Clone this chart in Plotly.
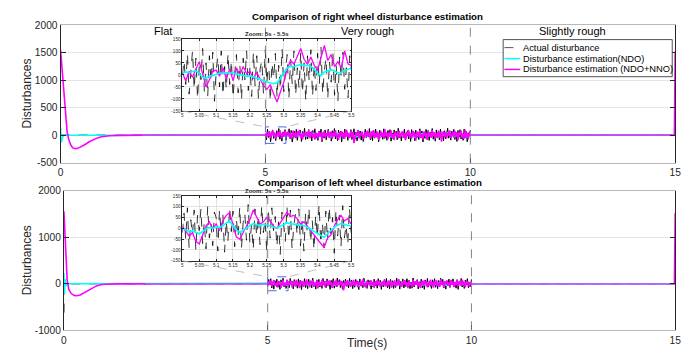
import numpy as np
import plotly.graph_objects as go

# ============================ DATA ============================
X_TICKS = [0, 5, 10, 15]
Y_TICKS_TOP = [-500, 0, 500, 1000, 1500, 2000]
Y_TICKS_BOT = [-1000, 0, 1000, 2000]
ZX_TICKS = [5, 5.05, 5.1, 5.15, 5.2, 5.25, 5.3, 5.35, 5.4, 5.45, 5.5]
ZX_LABELS = ["5", "5.05", "5.1", "5.15", "5.2", "5.25", "5.3", "5.35", "5.4", "5.45", "5.5"]
ZY_TICKS = [-150, -100, -50, 0, 50, 100, 150]
REGIONS = ["Flat", "Very rough", "Slightly rough"]
REGION_T = [2.5, 7.5, 12.5]
NAMES = ["Actual disturbance", "Disturbance estimation(NDO)", "Disturbance estimation (NDO+NNO)"]

# ---- start-up transient (0-5 s) ----
mag_t_top = [0, 0.04, 0.08, 0.12, 0.16, 0.2, 0.25, 0.3, 0.36, 0.42, 0.5, 0.6, 0.7, 0.8, 0.9, 1.0, 1.2, 1.5, 2.0, 5.0]
mag_v_top = [1550, 1150, 780, 400, 60, -80, -180, -232, -248, -240, -215, -170, -120, -80, -50, -30, -12, -4, 0, 0]
cyan_t_top = [0, 0.005, 0.02, 0.05, 0.08, 5.0]
cyan_v_top = [134, 60, -130, -40, 0, 0]
act_t_top = [0, 5.0]
act_v_top = [0, 0]

mag_t_bot = [0, 0.02, 0.04, 0.06, 0.08, 0.12, 0.18, 0.25, 0.32, 0.4, 0.5, 0.6, 0.7, 0.8, 0.9, 1.0, 1.3, 2.0, 5.0]
mag_v_bot = [1560, 1150, 750, 400, 80, -120, -210, -250, -258, -240, -190, -130, -80, -45, -22, -10, -3, 0, 0]
cyan_t_bot = [0, 0.005, 0.015, 0.03, 0.05, 0.07, 5.0]
cyan_v_bot = [230, 100, -220, 100, -50, 0, 0]
act_t_bot = [0, 0.004, 5.0]
act_v_bot = [-620, 0, 0]

# settled stretches where both estimates sit on zero (lines overlap)
flat_t = [2.0, 5.0, None, 10.0, 14.98]
flat_v = [0, 0, None, 0, 0]

# ---- very rough section (5-10 s), main view ----
act_band_top = [
    30, -85, 110, -40, 70, -120, 15, 95, -60, 45, -100, 80, -20, 120, -75, 35, -110, 60, -30, 100,
    -90, 50, -15, 115, -65, 85, -125, 20, 75, -50, 105, -95, 40, -10, 90, -115, 65, -35, 125, -80,
    10, -70, 100, -45, 55, -105, 85, -25, 115, -60, 30, -95, 75, -5, 110, -120, 45, -55, 95, -85,
    20, 105, -40, 60, -110, 80, -15, 120, -70, 40, -100, 90, -30, 70, -125, 50, -60, 110, -20, 85,
    -95, 35, -45, 100, -80, 15, 115, -65, 55, -105, 95, -10, 75, -90, 45, -115, 25, 105, -50, 65,
    -35, 120, -85, 30, -100, 80, -55, 110, -15, 60, -120, 90, -40, 20, -75, 115, -60, 50, -95, 85,
    -25, 100, -110, 40, -65, 95, -5, 70, -85, 125, -45, 35, -105, 55, -20, 110, -90, 15, 80, -70,
    45, -115, 100, -30, 65, -100, 90, -50, 20, -80, 115, -40, 75, -125, 35, -60, 105, -15, 85, -95,
    55, -35, 120, -75, 25, -110, 95, -45, 60, -85, 110, -20, 40, -100, 80, -65, 15, 125, -55, 30,
    -90, 70, -10, 105, -80, 50, -115, 85, -40, 100, -70, 25, -95, 110, -50, 65, -120, 40, -15, 90,
]
mag_band_top = [
    20, -40, 55, -10, 70, -50, 30, 85, -20, 40, -65, 15, 60, -35, 90, 5, -55, 45, -15, 75,
    -45, 25, 65, -30, 50, -70, 10, 80, -25, 35, -60, 70, -5, 95, -40, 20, -75, 55, -20, 40,
    60, -30, 85, -55, 15, 70, -45, 30, -80, 45, 5, -60, 75, -25, 50, -95, 20, 65, -40, 35,
    -15, 80, -50, 25, 60, -70, 40, -20, 90, -35, 15, -85, 55, -10, 70, -45, 30, -65, 100, -25,
    45, -55, 20, 75, -40, 60, -145, -30, 50, -15, 85, -60, 35, -5, 65, -75, 25, 55, -35, 80,
    -20, 45, -65, 70, -10, 90, -50, 30, -40, 60, -85, 15, 75, -30, 45, -55, 105, -20, 35, -70,
    50, -25, 85, -45, 20, -90, 65, -15, 40, -60, 80, -35, 10, 70, -50, 25, -80, 55, -5, 95,
    -40, 30, -65, 75, -20, 50, -100, 35, 60, -30, 85, -55, 15, -75, 65, -10, 45, -85, 70, -25,
    40, -50, 90, -15, 55, -70, 25, -35, 80, -45, 60, -120, 20, 70, -25, 50, -60, 35, -10, 85,
    -55, 30, 65, -40, 75, -20, 45, -90, 55, -5, 80, -50, 25, -65, 95, -30, 40, -75, 60, -15,
]
cyan_band_top = [
    5, -10, 15, 20, -5, -25, 10, 30, 15, -15, -30, -10, 20, 35, 10, -20, -5, 25, 15, -10,
    -25, 5, 30, 40, 15, -10, -30, -15, 10, 25, 5, -20, -35, -10, 15, 30, 20, -5, -25, -10,
    20, 35, 10, -15, -30, -5, 25, 15, -10, -25, 0, 30, 40, 10, -20, -35, -10, 20, 25, 5,
    -15, -30, -5, 15, 35, 20, -10, -25, 5, 30, 10, -20, -40, -15, 10, 30, 15, -5, -25, -10,
    20, 35, 15, -10, -30, -20, 5, 25, 35, 10, -15, -35, -10, 15, 25, 5, -20, -30, 0, 20,
]

act_band_bot = [
    -60, 95, -25, 110, -90, 40, -115, 70, -10, 100, -75, 55, -120, 85, -35, 120, -65, 20, -100, 75,
    45, -85, 115, -30, 60, -110, 90, -55, 25, -95, 105, -15, 80, -125, 50, -45, 110, -80, 35, -105,
    100, -20, 65, -90, 120, -60, 15, -115, 85, -40, 95, -70, 30, -100, 115, -25, 55, -85, 105, -50,
    20, -120, 75, -35, 110, -95, 40, -65, 125, -10, 90, -80, 50, -110, 70, -30, 100, -55, 15, -90,
    115, -45, 80, -105, 35, -75, 95, -15, 60, -125, 105, -50, 25, -85, 120, -60, 45, -100, 85, -20,
    70, -115, 10, -70, 100, -40, 55, -95, 110, -30, 75, -120, 40, -65, 90, -5, 115, -85, 30, -110,
    95, -55, 65, -100, 20, -80, 120, -35, 85, -115, 50, -25, 105, -90, 15, -60, 110, -45, 75, -105,
    35, -95, 125, -70, 60, -20, 90, -110, 45, -50, 100, -85, 25, -120, 80, -40, 115, -65, 55, -15,
    -100, 85, -30, 110, -75, 40, -105, 70, -55, 120, -10, 95, -90, 30, -115, 65, -45, 100, -80, 50,
    -25, 105, -60, 15, -95, 90, -120, 55, -35, 115, -70, 45, -100, 80, -20, 110, -85, 35, -60, 95,
]
mag_band_bot = [
    -30, 50, -15, 70, -55, 25, 80, -40, 10, -70, 60, -20, 45, -85, 35, 75, -50, 20, -35, 90,
    -60, 40, -10, 65, -80, 30, 55, -45, 85, -25, 15, -90, 70, -5, 50, -65, 40, -30, 95, -20,
    35, -75, 60, -15, 80, -50, 25, -40, 70, -100, 45, 10, -55, 85, -30, 55, -70, 20, 65, -45,
    75, -25, 40, -85, 15, 60, -35, 90, -60, 30, -10, 70, -50, 45, -140, -20, 55, -40, 80, -15,
    25, -65, 50, -30, 85, -45, 15, 70, -75, 40, -20, 60, -55, 95, -35, 20, -80, 65, -10, 45,
    -50, 75, -25, 35, -90, 55, -15, 80, -40, 65, -70, 25, 50, -35, 85, -60, 10, -45, 70, -20,
    60, -85, 30, -10, 75, -55, 45, -30, 100, -50, 20, -65, 55, -15, 80, -40, 35, -95, 65, -25,
    15, -70, 85, -35, 50, -20, 70, -60, 40, -90, 25, 65, -45, 80, -10, 55, -75, 30, -30, 90,
    -45, 35, -80, 60, -15, 75, -50, 20, -65, 95, -25, 45, -85, 55, -5, 70, -40, 30, -60, 85,
    -20, 50, -70, 40, -35, 80, -55, 15, 65, -45, 90, -30, 25, -75, 60, -10, 45, -65, 35, -25,
]
cyan_band_bot = [
    -5, 10, 20, -10, -25, 5, 25, 15, -10, -30, -15, 15, 30, 20, -5, -20, 5, 25, 10, -15,
    -35, -10, 20, 30, 5, -20, -25, 0, 20, 35, 15, -10, -30, -20, 10, 25, 10, -15, -25, 5,
    30, 20, -5, -25, -40, -15, 15, 30, 20, 0, -20, -30, -5, 20, 35, 10, -15, -25, -10, 15,
    25, 5, -20, -35, -15, 10, 30, 25, 0, -20, -10, 15, 35, 20, -5, -30, -20, 5, 25, 15,
    -10, -25, -5, 20, 30, 10, -15, -35, -20, 5, 25, 30, 10, -15, -30, -10, 15, 25, 5, -10,
]

# ---- slightly rough section (10-15 s) ----
end_t = [10.0, 14.98, 15.0]
end_act = [0, 0, 0]
end_cyan = [0, 0, 0]
end_mag = [0, 0, 1520]

# ---- zoom windows (5-5.5 s) ----
act_zoom_top = [
    0, 60, -40, 90, -80, 30, 100, -60, 70, -100, 40, -20, 110, -70, 50, -90, 80, -30, 95, -110,
    20, 75, -50, 100, -85, 35, -60, 90, -40, 60, -95, 10, 85, -75, 45, -105, 70, -20, 100, -65,
    30, -90, 95, -45, 80, -100, 25, 60, -80, 105, -35, 70, -110, 50, -15, 90, -95, 40, -60, 110,
    -70, 20, 85, -100, 65, -40, 100, -85, 30, -55, 95, -75, 50, -110, 80, -25, 105, -90, 45, -65,
    90, -40, 115, -80, 20, 70, -100, 55, -30, 100, -85, 40, -110, 75, -15, 95, -60, 30, -95, 80, 20,
]
mag_zoom_top = [
    10, -25, 15, -10, 25, 55, 5, -50, -20, 15,
    20, -5, 30, -15, 25, -25, 30, 0, 35, 5,
    15, -15, 10, -20, -45, -60, -40, -80, -113, -70,
    -30, 25, 60, 45, 80, 110, 65, 45, 75, 40,
    20, 70, 123, 60, 85, 35, 55, 30, 100, 45, 40,
]
cyan_zoom_top = [
    8, 12, 10, 15, 18, 5, -10, -14, -6, -2,
    4, 8, 6, 10, 7, 9, 4, 0, -2, -5,
    -4, -8, -12, -18, -24, -30, -34, -37, -33, -15,
    5, 30, 36, 34, 40, 42, 38, 40, 35, 24,
    5, -3, 12, 18, 22, 16, 8, 10, 20, 24, 28,
]
act_zoom_bot = [
    -20, 70, -50, 95, -90, 40, -30, 85, -100, 60, -10, 90, -70, 30, -95, 100, -45, 20, -80, 75,
    50, -105, 85, -25, 65, -110, 35, -60, 95, -15, 80, -85, 45, -40, 100, -95, 25, 70, -55, 110,
    -65, 15, -100, 90, -35, 60, -75, 105, -20, 40, -110, 80, -45, 95, -10, 55, -85, 30, -120, 75,
    20, -60, 100, -50, 85, -95, 10, 65, -30, 90, -80, 45, -105, 70, -15, 95, -65, 35, -100, 60,
    -40, 110, -70, 25, -90, 80, -55, 100, -25, 50, -115, 85, -35, 60, -85, 105, -45, 15, -75, 95, -20,
]
mag_zoom_bot = [
    10, -15, -35, -20, -60, -72, -30, 10, 30, 0,
    20, -10, 35, 60, 73, 20, -40, -50, -20, 15,
    40, 85, 55, 20, 30, 50, 35, 10, 0, 25,
    45, 75, 55, 60, 45, 20, 30, 10, -10, -35,
    -55, -70, -87, -45, -30, 10, 40, 60, 35, 45, 20,
]
cyan_zoom_bot = [
    0, -8, -15, -12, -20, -25, -15, -2, 5, 0,
    8, 4, 12, 25, 33, 15, -8, -18, -10, 2,
    12, 22, 18, 12, 20, 15, 10, 5, 2, 10,
    18, 25, 22, 20, 18, 15, 12, 5, -5, -15,
    -25, -35, -42, -25, -10, 5, 15, 22, 18, 15, 10,
]

# ============================ LAYOUT HELPERS ============================
W, H = 697, 355
FONT = "Liberation Sans, Arial, sans-serif"
TXT = "#262626"
CYAN = "#00FFFF"
MAG = "#FF00FF"
MIX = "#a46cf2"
ACT = "#000000"


def px(p):
    return p / W


def py(p):
    return 1 - p / H


TOP_X = [px(58.3), px(681)]
TOP_Y = [py(162.7), py(20.7)]
BOT_X = [px(61.7), px(681)]
BOT_Y = [py(335.7), py(191.7)]
INS1_X = [px(181.7), px(353)]
INS1_Y = [py(109.3), py(35)]
INS2_X = [px(181.7), px(352.7)]
INS2_Y = [py(264), py(197)]
TOP_RANGE = [-500, 2000]
BOT_RANGE = [-1000, 2000]


def seg_t(vals, t0, t1):
    return np.linspace(t0, t1, len(vals))


fig = go.Figure()


def add_line(t, v, color, width, dash, xa, ya):
    fig.add_trace(go.Scatter(x=list(t), y=list(v), mode="lines", xaxis=xa, yaxis=ya, showlegend=False,
                             line=dict(color=color, width=width, dash=dash), hoverinfo="skip"))


def add_main(xa, ya, act_t, act_v, act_b, cy_t, cy_v, cy_b, mg_t, mg_v, mg_b):
    # actual disturbance: dashed on the quiet stretches, dense band in the rough one
    add_line(list(act_t) + list(end_t), list(act_v) + list(end_act), ACT, 1, "dash", xa, ya)
    add_line(seg_t(act_b, 5.0, 10.0), act_b, ACT, 1, "solid", xa, ya)
    t = list(cy_t) + list(seg_t(cy_b, 5.0, 10.0)) + list(end_t)
    v = list(cy_v) + list(cy_b) + list(end_cyan)
    add_line(t, v, CYAN, 1.5, "solid", xa, ya)
    t = list(mg_t) + list(seg_t(mg_b, 5.0, 10.0)) + list(end_t)
    v = list(mg_v) + list(mg_b) + list(end_mag)
    add_line(t, v, MAG, 1.6, "solid", xa, ya)
    add_line(flat_t, flat_v, MIX, 1.4, "solid", xa, ya)


add_main("x", "y", act_t_top, act_v_top, act_band_top, cyan_t_top, cyan_v_top, cyan_band_top,
         mag_t_top, mag_v_top, mag_band_top)
add_main("x2", "y2", act_t_bot, act_v_bot, act_band_bot, cyan_t_bot, cyan_v_bot, cyan_band_bot,
         mag_t_bot, mag_v_bot, mag_band_bot)
# zoom top
add_line(seg_t(act_zoom_top, 5, 5.5), act_zoom_top, ACT, 0.8, "dash", "x3", "y3")
add_line(seg_t(mag_zoom_top, 5, 5.5), mag_zoom_top, MAG, 1.3, "solid", "x3", "y3")
add_line(seg_t(cyan_zoom_top, 5, 5.5), cyan_zoom_top, CYAN, 1.6, "solid", "x3", "y3")
# zoom bottom
add_line(seg_t(act_zoom_bot, 5, 5.5), act_zoom_bot, ACT, 0.8, "dash", "x4", "y4")
add_line(seg_t(mag_zoom_bot, 5, 5.5), mag_zoom_bot, MAG, 1.3, "solid", "x4", "y4")
add_line(seg_t(cyan_zoom_bot, 5, 5.5), cyan_zoom_bot, CYAN, 1.6, "solid", "x4", "y4")

tickfont = dict(family=FONT, size=10.2, color=TXT)


def main_x(domain, anchor):
    return dict(domain=domain, anchor=anchor, range=[0, 15], tickvals=X_TICKS,
                ticktext=[str(x) for x in X_TICKS], ticks="inside", ticklen=5,
                tickcolor=TXT, showline=True, linecolor="#b8b8b8", linewidth=1,
                mirror=True, showgrid=False, zeroline=False, tickfont=tickfont)


def main_y(domain, anchor, rng, tv):
    return dict(domain=domain, anchor=anchor, range=rng, tickvals=tv,
                ticktext=[str(y) for y in tv], ticks="inside", ticklen=5,
                tickcolor=TXT, showline=True, linecolor=TXT, linewidth=1,
                mirror="ticks", showgrid=True, gridcolor="#e4e4e4", gridwidth=1,
                zeroline=False, tickfont=tickfont)


zfont = dict(family=FONT, size=4.6, color=TXT)


def zoom_x(domain, anchor):
    return dict(domain=domain, anchor=anchor, range=[5, 5.5], tickvals=ZX_TICKS,
                ticktext=ZX_LABELS, ticks="inside", ticklen=2, tickcolor=TXT,
                showline=True, linecolor=TXT, linewidth=0.8, mirror="ticks",
                showgrid=True, gridcolor="#e2e2e2", gridwidth=0.8, zeroline=False,
                tickfont=zfont)


def zoom_y(domain, anchor):
    return dict(domain=domain, anchor=anchor, range=[-150, 150], tickvals=ZY_TICKS,
                ticktext=[str(y) for y in ZY_TICKS], ticks="inside", ticklen=2,
                tickcolor=TXT, showline=True, linecolor=TXT, linewidth=0.8,
                mirror="ticks", showgrid=True, gridcolor="#e2e2e2", gridwidth=0.8,
                zeroline=False, tickfont=zfont)


fig.update_layout(
    width=W, height=H, margin=dict(l=0, r=0, t=0, b=0),
    paper_bgcolor="white", plot_bgcolor="white", showlegend=False,
    font=dict(family=FONT, color=TXT),
    xaxis=main_x(TOP_X, "y"), yaxis=main_y(TOP_Y, "x", TOP_RANGE, Y_TICKS_TOP),
    xaxis2=main_x(BOT_X, "y2"), yaxis2=main_y(BOT_Y, "x2", BOT_RANGE, Y_TICKS_BOT),
    xaxis3=zoom_x(INS1_X, "y3"), yaxis3=zoom_y(INS1_Y, "x3"),
    xaxis4=zoom_x(INS2_X, "y4"), yaxis4=zoom_y(INS2_Y, "x4"),
)

shapes = []
annotations = []

# region separators
for xa, ya in (("x", "y domain"), ("x2", "y2 domain")):
    for xv in (5, 10):
        shapes.append(dict(type="line", xref=xa, yref=ya, x0=xv, x1=xv, y0=0, y1=1,
                           line=dict(color="#777777", width=0.9, dash="dash"), layer="above"))


def to_paper(xd, yd, dx, dy, rng):
    xp = dx[0] + (xd - 0) / 15 * (dx[1] - dx[0])
    yp = dy[0] + (yd - rng[0]) / (rng[1] - rng[0]) * (dy[1] - dy[0])
    return xp, yp


for xa, ya, dx, dy, rng, ix, iy in (("x", "y", TOP_X, TOP_Y, TOP_RANGE, INS1_X, INS1_Y),
                                    ("x2", "y2", BOT_X, BOT_Y, BOT_RANGE, INS2_X, INS2_Y)):
    shapes.append(dict(type="rect", xref=xa, yref=ya, x0=5, x1=5.5, y0=-150, y1=150,
                       line=dict(color="#5468ee", width=1, dash="dash"), layer="above"))
    xl, yt = to_paper(5, 150, dx, dy, rng)
    xr, _ = to_paper(5.5, 150, dx, dy, rng)
    shapes.append(dict(type="line", xref="paper", yref="paper", x0=ix[0], y0=iy[0], x1=xl, y1=yt,
                       line=dict(color="#b0b0b0", width=0.8, dash="dash"), layer="above"))
    shapes.append(dict(type="line", xref="paper", yref="paper", x0=ix[1], y0=iy[0], x1=xr, y1=yt,
                       line=dict(color="#b0b0b0", width=0.8, dash="dash"), layer="above"))
    annotations.append(dict(text="<b>Zoom: 5s - 5.5s</b>", xref="paper", yref="paper",
                            x=(ix[0] + ix[1]) / 2, y=iy[1], yanchor="bottom", xanchor="center",
                            showarrow=False, font=dict(size=6, color=TXT, family=FONT)))

# titles
annotations.append(dict(text="<b>Comparison of right wheel disturbance estimation</b>",
                        xref="paper", yref="paper", x=(TOP_X[0] + TOP_X[1]) / 2, y=py(12),
                        xanchor="center", yanchor="middle", showarrow=False,
                        font=dict(size=9.7, color="#000000", family=FONT)))
annotations.append(dict(text="<b>Comparison of left wheel disturbance estimation</b>",
                        xref="paper", yref="paper", x=(BOT_X[0] + BOT_X[1]) / 2, y=py(183),
                        xanchor="center", yanchor="middle", showarrow=False,
                        font=dict(size=9.7, color="#000000", family=FONT)))
# region labels
for name, tr in zip(REGIONS, REGION_T):
    annotations.append(dict(text=name, xref="x", yref="paper", x=tr, y=py(27),
                            xanchor="center", yanchor="middle", showarrow=False,
                            font=dict(size=11, color="#000000", family=FONT)))
# axis titles
for dy in (TOP_Y, BOT_Y):
    annotations.append(dict(text="Disturbances", xref="paper", yref="paper", x=px(24),
                            y=(dy[0] + dy[1]) / 2, textangle=-90, xanchor="center",
                            yanchor="middle", showarrow=False,
                            font=dict(size=12, color=TXT, family=FONT)))
annotations.append(dict(text="Time(s)", xref="paper", yref="paper", x=px(369), y=py(349),
                        xanchor="center", yanchor="middle", showarrow=False,
                        font=dict(size=12, color=TXT, family=FONT)))

# manual legend
shapes.append(dict(type="rect", xref="paper", yref="paper", x0=px(506.7), x1=px(678),
                   y0=py(74), y1=py(35.7), line=dict(color="#262626", width=0.8),
                   fillcolor="white", layer="above"))
leg_y = [44, 55.3, 66.5]
leg_style = [(ACT, "dash", 1), (CYAN, "solid", 1.5), (MAG, "solid", 1.5)]
for name, yy, (c, d, w) in zip(NAMES, leg_y, leg_style):
    shapes.append(dict(type="line", xref="paper", yref="paper", x0=px(508), x1=px(524),
                       y0=py(yy), y1=py(yy), line=dict(color="#555555" if c == ACT else c,
                                                       width=w, dash=d), layer="above"))
    annotations.append(dict(text=name, xref="paper", yref="paper", x=px(525), y=py(yy),
                            xanchor="left", yanchor="middle", showarrow=False,
                            font=dict(size=9.3, color="#000000", family=FONT)))

fig.update_layout(shapes=shapes, annotations=annotations)
fig.write_html("out.html")
